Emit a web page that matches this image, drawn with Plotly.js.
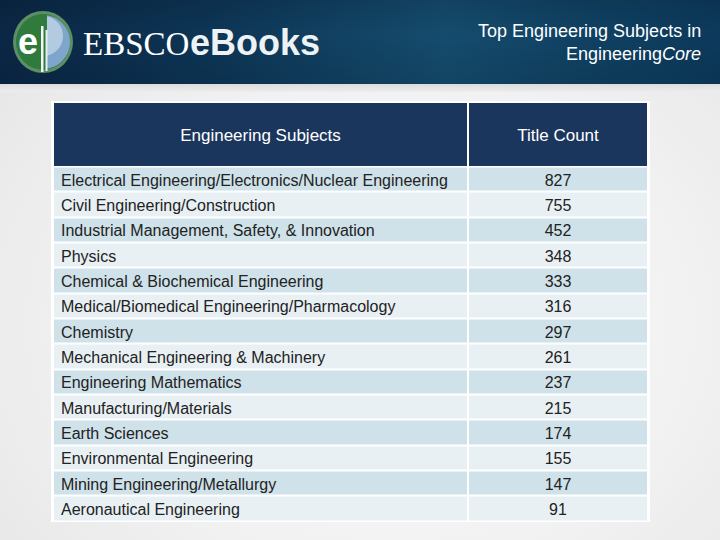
<!DOCTYPE html>
<html><head><meta charset="utf-8">
<script src="https://cdn.plot.ly/plotly-3.0.1.min.js"></script>
<style>
html,body{margin:0;padding:0;}
#wrap{position:relative;width:720px;height:540px;overflow:hidden;
background:radial-gradient(ellipse at 55% 60%, #fbfbfb 0%, #f1f1f1 55%, #e4e4e4 100%);}
#banner{position:absolute;left:0;top:0;width:720px;height:84px;
background:linear-gradient(90deg,#0a2745 0%,#0d3657 30%,#154c6e 62%,#104264 80%,#0c3a5c 100%);}
#banner2{position:absolute;left:0;top:0;width:720px;height:84px;
background:linear-gradient(180deg,rgba(0,0,0,0.12) 0%,rgba(0,0,0,0) 40%,rgba(0,0,0,0.1) 100%);}
#strip{position:absolute;left:0;top:84px;width:720px;height:8px;background:linear-gradient(180deg,#dcdcdc,#ededed);}
#chart{position:absolute;left:0;top:0;width:720px;height:540px;}
</style></head>
<body><div id="wrap"><div id="banner"></div><div id="banner2"></div><div id="strip"></div><div id="chart"></div></div>
<script>
const headerLabels = ["Engineering Subjects", "Title Count"];
const subjects = [
  "Electrical Engineering/Electronics/Nuclear Engineering",
  "Civil Engineering/Construction",
  "Industrial Management, Safety, & Innovation",
  "Physics",
  "Chemical & Biochemical Engineering",
  "Medical/Biomedical Engineering/Pharmacology",
  "Chemistry",
  "Mechanical Engineering & Machinery",
  "Engineering Mathematics",
  "Manufacturing/Materials",
  "Earth Sciences",
  "Environmental Engineering",
  "Mining Engineering/Metallurgy",
  "Aeronautical Engineering"
];
const titleCounts = [827, 755, 452, 348, 333, 316, 297, 261, 237, 215, 174, 155, 147, 91];

const W = 720, H = 540;
const FONT = "Liberation Sans, Arial, sans-serif";
// table geometry (pixels)
const tblL = 53, tblR = 648, headTop = 103, headBot = 166, bodyBot = 521;
const col1W = 415, col2W = tblR - tblL - col1W;
const colEdges = [0, col1W, col1W + col2W];
const textPad = 8, textDrop = 2.5;

const rowParity = subjects.map((s, i) => [i % 2, i % 2]);

const traces = [
  { // header background
    type: "heatmap", x: colEdges, y: ["header"], z: [[0, 0]],
    xaxis: "x", yaxis: "y2", xgap: 2,
    colorscale: [[0, "#1b365d"], [1, "#1b365d"]], showscale: false, hoverinfo: "skip"
  },
  { // header labels
    type: "scatter", mode: "text", xaxis: "x", yaxis: "y4",
    x: [col1W / 2, col1W + col2W / 2], y: ["header", "header"], text: headerLabels,
    textposition: "middle center", cliponaxis: false,
    textfont: {family: FONT, size: 17, color: "#ffffff"}, hoverinfo: "skip"
  },
  { // body row backgrounds
    type: "heatmap", x: colEdges, y: subjects, z: rowParity,
    xaxis: "x", yaxis: "y", xgap: 2, ygap: 2, zmin: 0, zmax: 1,
    colorscale: [[0, "#cfe1e9"], [1, "#e8f0f4"]], showscale: false, hoverinfo: "skip"
  },
  { // subject names
    type: "scatter", mode: "text", xaxis: "x", yaxis: "y3",
    x: subjects.map(() => textPad), y: subjects, text: subjects,
    textposition: "middle right", cliponaxis: false, marker: {size: 0},
    textfont: {family: FONT, size: 16, color: "#222222"}, hoverinfo: "skip"
  },
  { // title counts
    type: "scatter", mode: "text", xaxis: "x", yaxis: "y3",
    x: subjects.map(() => col1W + col2W / 2), y: subjects, text: titleCounts.map(String),
    textposition: "middle center", cliponaxis: false,
    textfont: {family: FONT, size: 16, color: "#222222"}, hoverinfo: "skip"
  }
];

const bodyDomain = [1 - bodyBot / H, 1 - (headBot + 0.5) / H];
const headDomain = [1 - headBot / H, 1 - headTop / H];
const drop = d => d.map(v => v - textDrop / H);

// logo decoration helpers (pixel -> paper)
const PX = v => (v / W).toFixed(5), PY = v => (1 - v / H).toFixed(5);
function rightCap(cx, cy, r, xCut) {
  const a0 = Math.acos((xCut - cx) / r);
  let d = "";
  const n = 24;
  for (let i = 0; i <= n; i++) {
    const a = -a0 + (2 * a0) * i / n;
    const x = cx + r * Math.cos(a), y = cy + r * Math.sin(a);
    d += (i === 0 ? "M" : "L") + PX(x) + "," + PY(y);
  }
  return d + "Z";
}

const layout = {
  width: W, height: H,
  margin: {l: 0, r: 0, t: 0, b: 0},
  paper_bgcolor: "rgba(0,0,0,0)",
  plot_bgcolor: "rgba(0,0,0,0)",
  showlegend: false,
  xaxis: {domain: [tblL / W, tblR / W], range: [0, col1W + col2W], visible: false, fixedrange: true},
  yaxis: {domain: bodyDomain, type: "category", categoryarray: subjects,
          range: [subjects.length - 0.5, -0.5], visible: false, fixedrange: true},
  yaxis2: {domain: headDomain, type: "category", anchor: "x",
           range: [-0.5, 0.5], visible: false, fixedrange: true},
  yaxis3: {domain: drop(bodyDomain), type: "category", anchor: "x", categoryarray: subjects,
           range: [subjects.length - 0.5, -0.5], visible: false, fixedrange: true},
  yaxis4: {domain: drop(headDomain), type: "category", anchor: "x",
           range: [-0.5, 0.5], visible: false, fixedrange: true},
  shapes: [
    {type: "rect", xref: "paper", yref: "paper", x0: 51 / W, y0: 1 - 522 / H, x1: 650 / W, y1: 1 - 101 / H,
     fillcolor: "#ffffff", line: {width: 0}, layer: "below"},
    // logo
    {type: "circle", xref: "paper", yref: "paper", x0: 13 / W, y0: 1 - 73 / H, x1: 73 / W, y1: 1 - 11 / H,
     fillcolor: "#5c8f66", line: {width: 0}},
    {type: "circle", xref: "paper", yref: "paper", x0: 16 / W, y0: 1 - 70 / H, x1: 70 / W, y1: 1 - 14 / H,
     fillcolor: "#2f7a3c", line: {width: 0}},
    {type: "path", xref: "paper", yref: "paper", path: rightCap(43, 42, 27, 47),
     fillcolor: "#7fa5cc", line: {width: 0}},
    {type: "path", xref: "paper", yref: "paper", path: rightCap(43, 36, 20, 47),
     fillcolor: "#c9dbe8", line: {width: 0}, opacity: 0.7},
    {type: "rect", xref: "paper", yref: "paper", x0: 41 / W, y0: 1 - 72 / H, x1: 43.5 / W, y1: 1 - 26 / H,
     fillcolor: "#f2f6f4", line: {width: 0}},
    {type: "rect", xref: "paper", yref: "paper", x0: 45.5 / W, y0: 1 - 71 / H, x1: 47.5 / W, y1: 1 - 30 / H,
     fillcolor: "#e6eef0", line: {width: 0}}
  ],
  annotations: [
    {xref: "paper", yref: "paper", x: 28 / W, y: 1 - 42 / H, xanchor: "center", yanchor: "middle", text: "<b>e</b>", showarrow: false,
     font: {family: FONT, size: 36, color: "#ffffff"}},
    {xref: "paper", yref: "paper", x: 81 / W, y: 1 - 44 / H, xanchor: "left", yanchor: "middle", text: "EBSCO", showarrow: false,
     font: {family: "Liberation Serif, Times New Roman, serif", size: 33, color: "#ffffff"}},
    {xref: "paper", yref: "paper", x: 188 / W, y: 1 - 43 / H, xanchor: "left", yanchor: "middle", text: "<b>eBooks</b>", showarrow: false,
     font: {family: FONT, size: 36, color: "#eef2f5"}},
    {xref: "paper", yref: "paper", x: 703 / W, y: 1 - 31 / H, xanchor: "right", yanchor: "middle", text: "Top Engineering Subjects in", showarrow: false,
     font: {family: FONT, size: 18, color: "#ffffff"}},
    {xref: "paper", yref: "paper", x: 703 / W, y: 1 - 54 / H, xanchor: "right", yanchor: "middle", text: "Engineering<i>Core</i>", showarrow: false,
     font: {family: FONT, size: 18, color: "#ffffff"}}
  ]
};

Plotly.newPlot("chart", traces, layout, {displayModeBar: false, staticPlot: true});
</script></body></html>
